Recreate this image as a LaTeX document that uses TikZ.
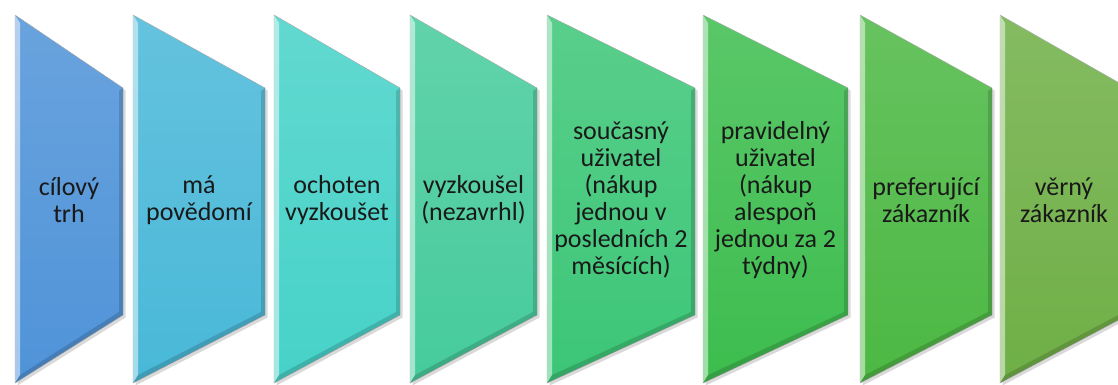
\documentclass[tikz,border=0pt]{standalone}
\usepackage{fontspec}
\setmainfont{Carlito}
\usetikzlibrary{shadows}
\definecolor{st1}{HTML}{4F93D8}
\definecolor{st2}{HTML}{49B8D8}
\definecolor{st3}{HTML}{46D2C8}
\definecolor{st4}{HTML}{46CB9C}
\definecolor{st5}{HTML}{3CC677}
\definecolor{st6}{HTML}{3DBD4E}
\definecolor{st7}{HTML}{4CB843}
\definecolor{st8}{HTML}{6FAF46}
\tikzset{%
	stage/.style={draw=black!35, line width=0.4pt, line join=round,%
		drop shadow={shadow xshift=2.5pt, shadow yshift=-2.5pt, opacity=0.3}},
	hilite/.style={fill=white, opacity=0.5},
	rim/.style={fill=black, opacity=0.15},
	lbl/.style={font=\fontsize{26}{27}\selectfont, align=center, text=black!90}
}

\begin{document}
\begin{tikzpicture}[x=1pt, y=-1pt]
	\clip (0,0) rectangle (1118,385);
	\foreach \xl/\xr/\c/\n/\t in {%
		15/123/st1/cil/{cílový\\trh},
		133/265/st2/povedomi/{má\\povědomí},
		274/400/st3/ochoten/{ochoten\\vyzkoušet},
		410/537/st4/vyzkousel/{vyzkoušel\\(nezavrhl)},
		547/695/st5/soucasny/{současný\\uživatel\\(nákup\\jednou v\\posledních 2\\měsících)},
		703/848/st6/pravidelny/{pravidelný\\uživatel\\(nákup\\alespoň\\jednou za 2\\týdny)},
		860/992/st7/preferujici/{preferující\\zákazník},
		1000/1128/st8/verny/{věrný\\zákazník}%
	}{
		\path[stage, top color=\c!85!white, bottom color=\c]
			(\xl,15) -- (\xr,88) -- (\xr,315) -- (\xl,383) -- cycle;
		% bevel: light left edge, darker right and lower edges
		\path[hilite] (\xl,15) -- ({\xl+5},23) -- ({\xl+5},375) -- (\xl,383) -- cycle;
		\path[rim] (\xr,88) -- (\xr,315) -- ({\xr-4},312) -- ({\xr-4},91) -- cycle;
		\path[rim] (\xl,383) -- (\xr,315) -- ({\xr-4},312) -- ({\xl+5},375) -- cycle;
		\node[lbl] (\n) at ({(\xl+\xr)/2},200) {\t};
	}
\end{tikzpicture}
\end{document}
